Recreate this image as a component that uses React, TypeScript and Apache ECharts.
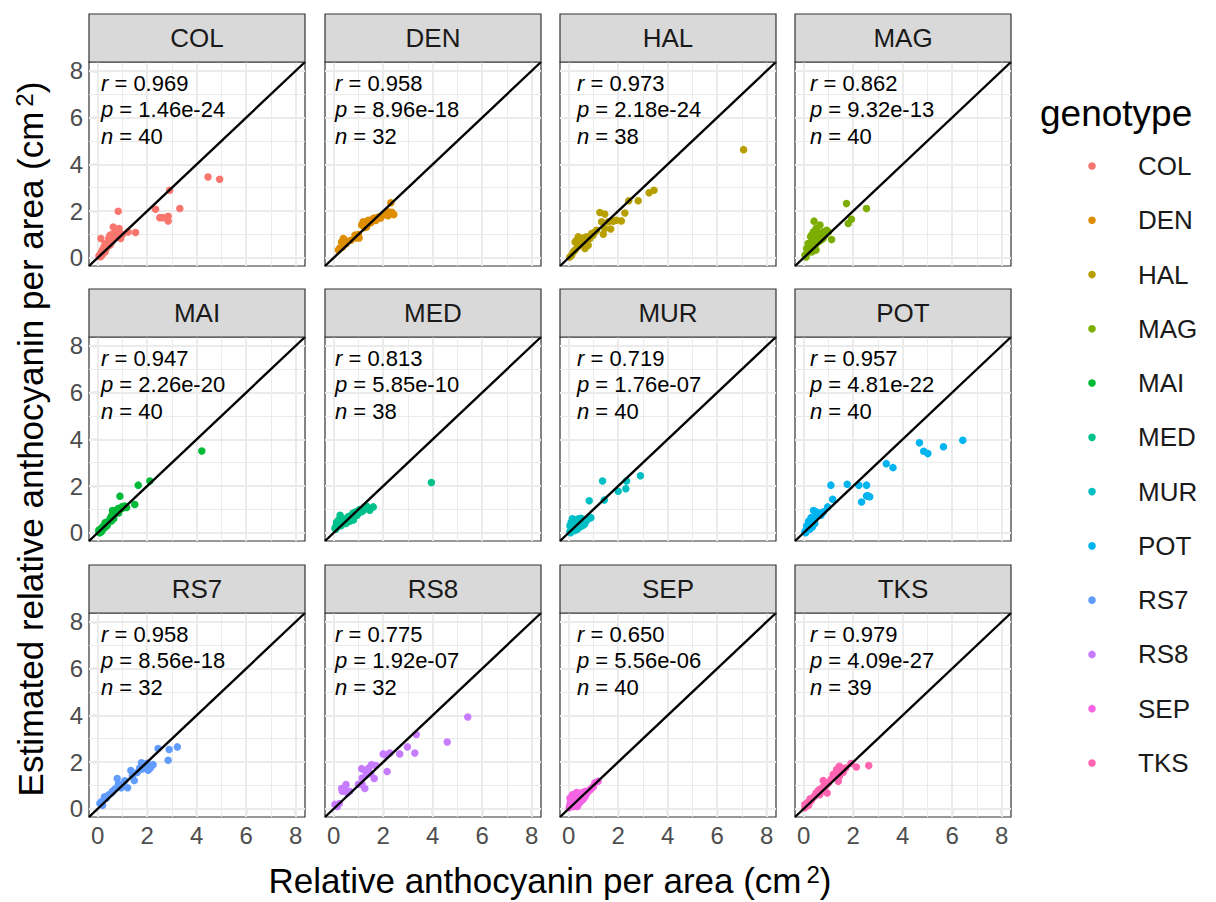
import React, { useEffect, useRef } from "react";
import * as echarts from "echarts";

const genotypes = ["COL", "DEN", "HAL", "MAG", "MAI", "MED", "MUR", "POT", "RS7", "RS8", "SEP", "TKS"];
const genotypeColors = ["#F8766D", "#DE8C00", "#B79F00", "#7CAE00", "#00BA38", "#00C08B", "#00BFC4", "#00B4F0", "#619CFF", "#C77CFF", "#F564E3", "#FF64B0"];
const rValues = ["0.969", "0.958", "0.973", "0.862", "0.947", "0.813", "0.719", "0.957", "0.958", "0.775", "0.650", "0.979"];
const pValues = ["1.46e-24", "8.96e-18", "2.18e-24", "9.32e-13", "2.26e-20", "5.85e-10", "1.76e-07", "4.81e-22", "8.56e-18", "1.92e-07", "5.56e-06", "4.09e-27"];
const nValues = [40, 32, 38, 40, 40, 38, 40, 40, 32, 32, 40, 39];
const majorTicks = [0, 2, 4, 6, 8];
const minorTicks = [1, 3, 5, 7];
const AXIS_MIN = -0.35;
const AXIS_MAX = 8.38;

type P = [number, number];

const COL: P[] = [[4.46, 3.46], [4.93, 3.36], [2.91, 2.89], [3.32, 2.11], [2.34, 2.08], [2.51, 1.72], [2.64, 1.72], [2.85, 1.78], [2.85, 1.58], [0.83, 1.99], [0.63, 1.32], [0.87, 1.25], [0.93, 0.83], [1.23, 1.11], [1.53, 1.08], [0.13, 0.83], [0.5, 0.97], [0.6, 0.75], [0.7, 0.9], [0.45, 0.7], [0.35, 0.55], [0.3, 0.6], [0.25, 0.45], [0.2, 0.35], [0.15, 0.25], [0.1, 0.15], [0.05, 0.08], [0.4, 0.5], [0.55, 0.65], [0.65, 1.05], [0.75, 1.0], [0.8, 0.9], [0.25, 0.3], [0.3, 0.25], [0.18, 0.12], [0.12, 0.05], [0.35, 0.4], [0.5, 0.55], [1.0, 1.0], [0.45, 0.85]];
const DEN: P[] = [[2.31, 2.36], [2.43, 1.85], [2.2, 1.97], [2.0, 1.82], [1.8, 1.75], [1.6, 1.68], [1.4, 1.61], [1.19, 1.54], [1.13, 1.4], [1.33, 1.32], [1.03, 0.85], [0.86, 0.97], [0.46, 0.75], [0.32, 0.68], [0.26, 0.43], [0.19, 0.33], [0.39, 0.83], [1.5, 1.5], [1.7, 1.6], [1.9, 1.7], [2.1, 1.9], [1.3, 1.45], [1.0, 1.0], [0.7, 0.75], [0.5, 0.6], [0.35, 0.45], [2.2, 1.8], [1.45, 1.55], [1.65, 1.7], [1.25, 1.3], [0.9, 0.85], [2.35, 1.95]];
const HAL: P[] = [[7.07, 4.63], [3.45, 2.89], [3.25, 2.78], [2.81, 2.44], [2.43, 2.44], [2.27, 1.92], [2.13, 1.58], [1.93, 1.61], [1.7, 1.23], [1.4, 1.01], [1.46, 1.25], [1.26, 1.94], [1.46, 1.87], [1.33, 1.54], [1.13, 1.18], [0.99, 0.97], [0.72, 0.9], [0.52, 0.83], [0.32, 0.75], [0.79, 0.54], [0.66, 0.4], [0.26, 0.68], [0.39, 0.9], [0.46, 0.75], [0.59, 0.85], [0.19, 0.26], [0.12, 0.11], [0.05, 0.04], [0.26, 0.33], [0.36, 0.47], [0.52, 0.61], [0.66, 0.68], [0.86, 0.83], [0.93, 1.04], [1.06, 1.11], [1.6, 1.54], [1.8, 1.57], [0.4, 0.55]];
const MAG: P[] = [[1.73, 2.32], [2.54, 2.11], [1.93, 1.65], [1.8, 1.47], [0.42, 1.57], [0.66, 1.4], [1.13, 0.78], [0.93, 1.18], [0.79, 1.11], [0.52, 0.97], [0.39, 1.11], [0.46, 0.83], [0.32, 0.68], [0.26, 0.54], [0.19, 0.33], [0.12, 0.19], [0.05, 0.11], [0.39, 0.4], [0.59, 0.68], [0.72, 1.04], [0.86, 0.97], [0.32, 0.97], [0.5, 1.25], [0.26, 0.26], [0.12, 0.4], [0.42, 0.61], [0.63, 0.85], [0.36, 0.75], [0.23, 0.47], [0.55, 1.11], [0.28, 0.9], [0.46, 0.47], [0.69, 0.75], [0.1, 0.04], [0.34, 0.26], [0.18, 0.61], [0.6, 0.97], [0.5, 0.33], [0.79, 0.83], [1.0, 1.11]];
const MAI: P[] = [[4.21, 3.5], [2.11, 2.22], [1.64, 2.04], [0.9, 1.57], [1.5, 1.21], [1.17, 1.08], [0.97, 1.11], [0.83, 1.04], [0.67, 0.9], [0.56, 0.51], [0.3, 0.43], [0.05, 0.05], [0.1, 0.1], [0.15, 0.18], [0.2, 0.25], [0.12, 0.02], [0.08, 0.0], [0.25, 0.3], [0.3, 0.35], [0.18, 0.12], [0.35, 0.45], [0.4, 0.38], [0.45, 0.5], [0.5, 0.6], [0.55, 0.7], [0.6, 0.8], [0.7, 0.85], [0.75, 0.95], [0.9, 1.0], [1.0, 1.05], [0.22, 0.2], [0.28, 0.22], [0.38, 0.3], [0.65, 0.6], [0.85, 0.85], [1.1, 1.15], [0.6, 0.95], [0.12, 0.15], [0.05, 0.12], [0.16, 0.06]];
const MED: P[] = [[3.95, 2.15], [1.6, 1.11], [1.46, 0.97], [1.33, 1.14], [1.13, 0.9], [0.95, 0.75], [0.79, 0.85], [0.26, 0.75], [0.66, 0.61], [0.05, 0.2], [0.1, 0.3], [0.15, 0.25], [0.2, 0.4], [0.25, 0.35], [0.3, 0.5], [0.35, 0.45], [0.4, 0.55], [0.45, 0.5], [0.5, 0.6], [0.55, 0.55], [0.6, 0.7], [0.7, 0.65], [0.75, 0.8], [0.85, 0.7], [0.9, 0.9], [1.0, 0.85], [1.05, 1.0], [1.2, 0.95], [0.35, 0.62], [0.2, 0.55], [0.12, 0.45], [0.5, 0.4], [0.65, 0.5], [0.08, 0.15], [0.3, 0.3], [1.25, 1.1], [1.4, 1.05], [0.8, 0.55]];
const MUR: P[] = [[2.9, 2.44], [2.34, 2.22], [2.31, 1.89], [2.0, 1.78], [1.37, 2.22], [1.44, 1.4], [0.83, 1.37], [0.05, 0.05], [0.1, 0.15], [0.15, 0.1], [0.2, 0.2], [0.25, 0.3], [0.3, 0.25], [0.35, 0.4], [0.4, 0.35], [0.45, 0.45], [0.5, 0.5], [0.55, 0.42], [0.6, 0.55], [0.7, 0.5], [0.8, 0.6], [0.15, 0.6], [0.1, 0.45], [0.2, 0.4], [0.3, 0.55], [0.25, 0.1], [0.35, 0.15], [0.45, 0.25], [0.55, 0.3], [0.65, 0.38], [0.05, 0.3], [0.12, 0.25], [0.08, 0.0], [0.4, 0.6], [0.5, 0.62], [0.18, 0.35], [0.28, 0.45], [0.38, 0.28], [0.6, 0.35], [0.9, 0.65]];
const POT: P[] = [[6.43, 3.96], [5.65, 3.68], [5.02, 3.39], [4.85, 3.49], [4.68, 3.85], [3.61, 2.79], [3.34, 2.96], [2.54, 2.04], [2.23, 2.04], [1.76, 2.08], [1.1, 2.04], [2.6, 1.58], [2.67, 1.54], [2.54, 1.58], [2.34, 1.32], [1.17, 1.44], [0.97, 1.11], [0.05, 0.05], [0.1, 0.12], [0.15, 0.2], [0.2, 0.28], [0.25, 0.35], [0.3, 0.42], [0.35, 0.5], [0.4, 0.55], [0.45, 0.62], [0.5, 0.7], [0.55, 0.8], [0.4, 0.95], [0.5, 0.9], [0.6, 0.85], [0.7, 0.75], [0.3, 0.65], [0.2, 0.5], [0.12, 0.3], [0.25, 0.15], [0.35, 0.25], [0.45, 0.4], [0.8, 0.9], [0.08, 0.0]];
const RS7: P[] = [[3.22, 2.65], [2.89, 2.54], [2.85, 2.08], [2.44, 2.58], [2.24, 1.89], [2.13, 1.75], [2.04, 1.65], [1.97, 1.85], [1.77, 1.97], [1.7, 1.75], [1.34, 1.64], [1.48, 1.21], [1.21, 0.9], [0.79, 1.3], [0.83, 1.04], [0.56, 0.68], [0.27, 0.51], [0.09, 0.23], [0.15, 0.3], [0.35, 0.45], [0.45, 0.6], [0.6, 0.75], [0.7, 0.85], [1.0, 1.05], [1.1, 1.2], [1.4, 1.4], [1.6, 1.55], [1.8, 1.7], [1.9, 1.8], [2.0, 1.95], [0.2, 0.15], [0.95, 0.9]];
const RS8: P[] = [[5.42, 3.93], [4.59, 2.86], [3.34, 3.18], [3.28, 2.39], [2.98, 2.65], [2.67, 2.35], [2.27, 2.39], [2.0, 2.35], [2.16, 1.6], [1.53, 1.89], [1.42, 1.75], [1.13, 1.72], [1.26, 1.64], [1.64, 1.3], [1.33, 1.47], [1.15, 1.32], [1.26, 0.87], [1.15, 1.04], [0.5, 1.04], [0.32, 0.87], [0.56, 0.68], [0.23, 0.23], [0.05, 0.19], [0.35, 0.75], [0.45, 0.9], [0.65, 0.75], [1.0, 1.05], [1.4, 1.6], [1.7, 1.85], [2.1, 2.3], [0.15, 0.1], [1.5, 1.5]];
const SEP: P[] = [[0.02, 0.05], [0.05, 0.2], [0.08, 0.35], [0.1, 0.15], [0.12, 0.45], [0.15, 0.3], [0.18, 0.55], [0.2, 0.1], [0.22, 0.4], [0.25, 0.6], [0.28, 0.25], [0.3, 0.5], [0.32, 0.7], [0.35, 0.35], [0.38, 0.55], [0.4, 0.2], [0.42, 0.65], [0.45, 0.45], [0.48, 0.3], [0.5, 0.6], [0.52, 0.5], [0.55, 0.7], [0.58, 0.4], [0.6, 0.55], [0.62, 0.65], [0.65, 0.5], [0.68, 0.75], [0.7, 0.6], [0.75, 0.7], [0.8, 0.75], [0.85, 0.8], [0.9, 0.85], [0.95, 0.9], [1.0, 0.95], [1.06, 1.11], [1.19, 1.18], [0.15, 0.6], [0.25, 0.2], [0.35, 0.1], [0.05, 0.45]];
const TKS: P[] = [[2.63, 1.85], [2.13, 1.79], [1.91, 1.94], [1.6, 1.57], [1.44, 1.82], [1.33, 1.68], [1.19, 1.47], [1.4, 1.18], [0.79, 1.21], [0.95, 0.68], [0.63, 0.75], [0.5, 0.68], [0.26, 0.43], [0.05, 0.19], [0.1, 0.1], [0.15, 0.25], [0.2, 0.3], [0.3, 0.35], [0.35, 0.45], [0.4, 0.5], [0.45, 0.55], [0.55, 0.65], [0.6, 0.8], [0.7, 0.85], [0.8, 0.95], [0.9, 1.0], [1.0, 1.1], [1.1, 1.25], [1.2, 1.35], [1.25, 1.5], [1.35, 1.45], [1.5, 1.6], [1.55, 1.7], [1.7, 1.75], [0.65, 0.6], [0.2, 0.15], [0.05, 0.05], [1.45, 1.4], [0.85, 0.75]];

const pointSets: P[][] = [COL, DEN, HAL, MAG, MAI, MED, MUR, POT, RS7, RS8, SEP, TKS];

// layout (pixels)
const PANEL_LEFT = [89, 325, 560, 795];
const PANEL_TOP = [62, 337, 613];
const PANEL_W = 216;
const PANEL_H = 204;
const STRIP_H = 48;
const STAT_X_OFFSET = [12, 10, 17, 15];
const FONT = "'Liberation Sans', Arial, Helvetica, sans-serif";

export default function App() {
  const ref = useRef<HTMLDivElement>(null);
  useEffect(() => {
    document.body.style.margin = "0";
    const chart = echarts.init(ref.current!, null, { renderer: "svg" });

    const grids: any[] = [];
    const xAxes: any[] = [];
    const yAxes: any[] = [];
    const series: any[] = [];
    const graphics: any[] = [];

    const gridLineData: any[] = [];
    majorTicks.forEach((v) => {
      gridLineData.push({ xAxis: v, lineStyle: { width: 2 } });
      gridLineData.push({ yAxis: v, lineStyle: { width: 2 } });
    });
    minorTicks.forEach((v) => {
      gridLineData.push({ xAxis: v, lineStyle: { width: 1 } });
      gridLineData.push({ yAxis: v, lineStyle: { width: 1 } });
    });

    genotypes.forEach((g, i) => {
      const c = i % 4;
      const r = Math.floor(i / 4);
      const left = PANEL_LEFT[c];
      const top = PANEL_TOP[r];
      grids.push({
        left, top, width: PANEL_W, height: PANEL_H,
        show: true, backgroundColor: "#FFFFFF", borderColor: "#333333", borderWidth: 1.2,
      });
      xAxes.push({
        gridIndex: i, type: "value", min: AXIS_MIN, max: AXIS_MAX,
        splitLine: { show: false }, axisLine: { show: false },
        axisTick: { show: r === 2, customValues: majorTicks, length: 5, lineStyle: { color: "#333333", width: 1.2 } },
        axisLabel: { show: r === 2, customValues: majorTicks, fontSize: 24, color: "#4D4D4D", margin: 6, fontFamily: FONT },
      });
      yAxes.push({
        gridIndex: i, type: "value", min: AXIS_MIN, max: AXIS_MAX,
        splitLine: { show: false }, axisLine: { show: false },
        axisTick: { show: c === 0, customValues: majorTicks, length: 5, lineStyle: { color: "#333333", width: 1.2 } },
        axisLabel: { show: c === 0, customValues: majorTicks, fontSize: 24, color: "#4D4D4D", margin: 6, fontFamily: FONT },
      });
      series.push({
        name: g, type: "scatter", xAxisIndex: i, yAxisIndex: i,
        data: pointSets[i], symbolSize: 7.5, z: 2, silent: true,
        itemStyle: { color: genotypeColors[i], opacity: 1 },
        markLine: {
          silent: true, z: 1, symbol: ["none", "none"], label: { show: false },
          lineStyle: { type: "solid", color: "#EBEBEB" },
          emphasis: { disabled: true },
          animation: false,
          data: gridLineData,
        },
      });
      series.push({
        type: "line", xAxisIndex: i, yAxisIndex: i, silent: true, z: 3,
        data: [[AXIS_MIN, AXIS_MIN], [AXIS_MAX, AXIS_MAX]],
        symbol: "none", lineStyle: { color: "#000000", width: 2.4 },
      });

      // strip
      graphics.push({
        type: "rect", shape: { x: left, y: top - STRIP_H, width: PANEL_W, height: STRIP_H },
        style: { fill: "#D9D9D9", stroke: "#333333", lineWidth: 1.2 }, z: 10,
      });
      graphics.push({
        type: "text", x: left + PANEL_W / 2, y: top - STRIP_H / 2, z: 11,
        style: { text: g, fontSize: 26, fill: "#1A1A1A", align: "center", verticalAlign: "middle", fontFamily: FONT },
      });
      // stats
      const sx = left + STAT_X_OFFSET[c];
      const lines = [
        `{it|r} = ${rValues[i]}`,
        `{it|p} = ${pValues[i]}`,
        `{it|n} = ${nValues[i]}`,
      ];
      lines.forEach((t, k) => {
        graphics.push({
          type: "text", x: sx, y: top + 21 + k * 26.5, z: 12,
          style: {
            text: t, fontSize: 22, fill: "#000000", align: "left", verticalAlign: "middle", fontFamily: FONT,
            rich: { it: { fontStyle: "italic", fontSize: 22, fill: "#000000", fontFamily: FONT } },
          },
        });
      });
    });

    // axis titles
    graphics.push({
      type: "text", x: 550, y: 880, z: 12,
      style: {
        text: "Relative anthocyanin per area (cm{sup|2})", fontSize: 35, fill: "#000000",
        align: "center", verticalAlign: "middle", fontFamily: FONT,
        rich: { sup: { fontSize: 24, verticalAlign: "top", padding: [0, 0, 0, 5], fontFamily: FONT, fill: "#000000" } },
      },
    });
    graphics.push({
      type: "text", x: 30, y: 439, rotation: Math.PI / 2, z: 12,
      style: {
        text: "Estimated relative anthocyanin per area (cm{sup|2})", fontSize: 35, fill: "#000000",
        align: "center", verticalAlign: "middle", fontFamily: FONT,
        rich: { sup: { fontSize: 24, verticalAlign: "top", padding: [0, 0, 0, 5], fontFamily: FONT, fill: "#000000" } },
      },
    });

    // legend
    graphics.push({
      type: "text", x: 1040, y: 113, z: 12,
      style: { text: "genotype", fontSize: 37, fill: "#000000", align: "left", verticalAlign: "middle", fontFamily: FONT },
    });
    genotypes.forEach((g, i) => {
      const y = 166 + i * 54.27;
      graphics.push({ type: "circle", shape: { cx: 1092, cy: y, r: 3.8 }, style: { fill: genotypeColors[i] }, z: 12 });
      graphics.push({
        type: "text", x: 1138, y, z: 12,
        style: { text: g, fontSize: 26, fill: "#1A1A1A", align: "left", verticalAlign: "middle", fontFamily: FONT },
      });
    });

    chart.setOption({
      animation: false,
      backgroundColor: "#FFFFFF",
      grid: grids,
      xAxis: xAxes,
      yAxis: yAxes,
      series,
      graphic: graphics,
    });
    return () => chart.dispose();
  }, []);
  return <div ref={ref} style={{ width: 1216, height: 902 }} />;
}
